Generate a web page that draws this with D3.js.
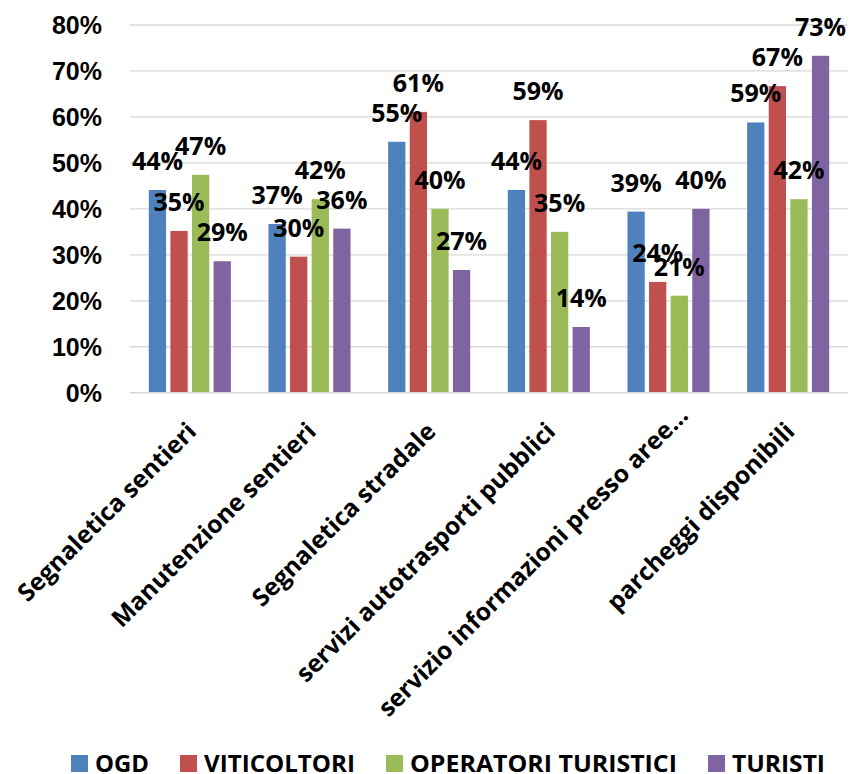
<!DOCTYPE html>
<html>
<head>
<meta charset="utf-8">
<script src="https://cdn.jsdelivr.net/npm/d3@7"></script>
<style>
  html, body { margin: 0; padding: 0; background: #fff; }
  svg { display: block; font-family: "Open Sans", "Noto Sans", sans-serif; font-weight: 700; }
</style>
</head>
<body>
<svg id="chart" width="850" height="774"></svg>
<script>
// ---- data ----
const categories = [
  "Segnaletica sentieri",
  "Manutenzione sentieri",
  "Segnaletica stradale",
  "servizi autotrasporti pubblici",
  "servizio informazioni presso aree\u2026",
  "parcheggi disponibili"
];
const seriesNames = ["OGD", "VITICOLTORI", "OPERATORI TURISTICI", "TURISTI"];
const seriesColors = ["#4F81BD", "#C0504D", "#9BBB59", "#8064A2"];
const ogd         = [0.441, 0.367, 0.546, 0.441, 0.394, 0.588];
const viticoltori = [0.352, 0.296, 0.611, 0.593, 0.241, 0.667];
const operatori   = [0.474, 0.421, 0.400, 0.350, 0.211, 0.421];
const turisti     = [0.286, 0.357, 0.267, 0.143, 0.400, 0.733];
const yTicks = [0, 0.1, 0.2, 0.3, 0.4, 0.5, 0.6, 0.7, 0.8];

const seriesValues = [ogd, viticoltori, operatori, turisti];
const table = categories.map((c, i) => ({
  category: c,
  values: seriesNames.map((s, j) => ({ series: s, idx: j, value: seriesValues[j][i] }))
}));

// ---- layout / style ----
const legendTextWidths = [54, 151, 267, 93];
const svg = d3.select("#chart");
const plot = { left: 130, right: 848, top: 25, bottom: 392.7 };

const x0 = d3.scaleBand().domain(categories).range([plot.left, plot.right]).paddingInner(0).paddingOuter(0);
const x1 = d3.scaleBand().domain(seriesNames).range([18.8, x0.bandwidth() - 18.8]).paddingInner(0.2).paddingOuter(0);
const y = d3.scaleLinear().domain([0, 0.8]).range([plot.bottom, plot.top]);
const pct = d3.format(".0%");

// gridlines
svg.append("g").selectAll("line").data(yTicks).join("line")
  .attr("x1", plot.left).attr("x2", plot.right)
  .attr("y1", d => y(d)).attr("y2", d => y(d))
  .attr("stroke", "#d9d9d9").attr("stroke-width", 1.3);

// y axis labels
const yAxis = d3.axisLeft(y).tickValues(yTicks).tickFormat(pct).tickSize(0).tickPadding(0);
const yg = svg.append("g").attr("transform", `translate(102,0)`).call(yAxis);
yg.select(".domain").remove();
yg.selectAll("text").attr("font-size", 25).attr("font-family", null).attr("fill", "#000").attr("dy", "0.34em");

// bars
const groups = svg.append("g").selectAll("g").data(table).join("g")
  .attr("transform", d => `translate(${x0(d.category)},0)`);
groups.selectAll("rect").data(d => d.values).join("rect")
  .attr("x", d => x1(d.series))
  .attr("width", x1.bandwidth())
  .attr("y", d => y(d.value))
  .attr("height", d => y(0) - y(d.value))
  .attr("fill", d => seriesColors[d.idx]);

// bottom axis line
svg.append("line")
  .attr("x1", plot.left).attr("x2", plot.right)
  .attr("y1", y(0)).attr("y2", y(0))
  .attr("stroke", "#d9d9d9").attr("stroke-width", 1.5);

// data labels
groups.selectAll("text.lbl").data(d => d.values).join("text")
  .attr("class", "lbl")
  .attr("x", d => x1(d.series) + x1.bandwidth() / 2)
  .attr("y", d => y(d.value) - 28.5)
  .attr("dy", "0.34em")
  .attr("text-anchor", "middle")
  .attr("font-size", 25)
  .attr("fill", "#000")
  .text(d => pct(d.value));

// category labels (rotated)
svg.append("g").selectAll("text").data(categories).join("text")
  .attr("transform", d => {
    const cx = x0(d) + x0.bandwidth() / 2;
    const truncated = d.endsWith("\u2026");
    return truncated
      ? `translate(${cx + 21},417) rotate(-45)`
      : `translate(${cx + 8},433) rotate(-45)`;
  })
  .attr("text-anchor", "end")
  .attr("font-size", 24.5)
  .attr("fill", "#000")
  .text(d => d);

// legend
const legend = svg.append("g").attr("transform", "translate(71,0)");
let lx = 0;
seriesNames.forEach((s, i) => {
  legend.append("rect").attr("x", lx).attr("y", 755).attr("width", 17).attr("height", 17).attr("fill", seriesColors[i]);
  legend.append("text").attr("x", lx + 24).attr("y", 772)
    .attr("font-size", 24).attr("fill", "#000")
    .attr("textLength", legendTextWidths[i]).attr("lengthAdjust", "spacingAndGlyphs")
    .text(s);
  lx += 24 + legendTextWidths[i] + 31;
});
</script>
</body>
</html>
